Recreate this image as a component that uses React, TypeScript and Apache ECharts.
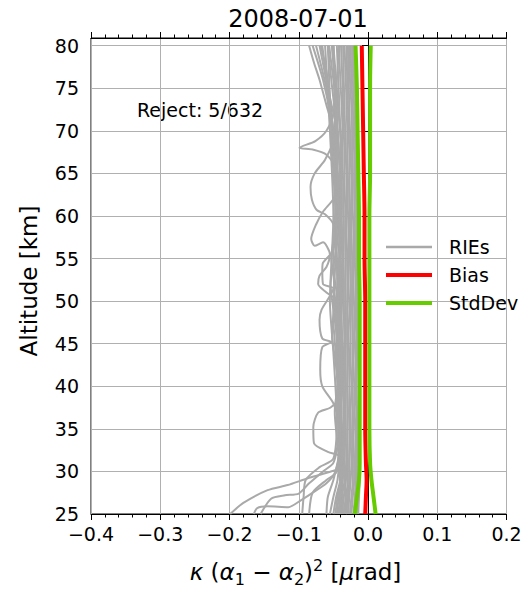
import React, { useEffect, useRef } from 'react';
import * as echarts from 'echarts';

const FONT = '"DejaVu Sans", sans-serif';

// Altitude levels (km) for the dense band of RIE profiles
const LEV = [25, 27, 29, 31, 34, 37, 40, 43, 46, 49, 52, 55, 58, 61, 64, 67, 70, 73, 76, 80];

// Dense core of RIE profiles: x values at LEV
const CORE_1 = [-0.014, -0.013, -0.012, -0.012, -0.012, -0.012, -0.012, -0.012, -0.012, -0.012, -0.012, -0.013, -0.013, -0.013, -0.014, -0.014, -0.015, -0.016, -0.018, -0.019];
const CORE_2 = [-0.016, -0.015, -0.014, -0.014, -0.014, -0.014, -0.014, -0.014, -0.014, -0.014, -0.014, -0.015, -0.015, -0.015, -0.016, -0.016, -0.017, -0.018, -0.020, -0.021];
const CORE_3 = [-0.019, -0.017, -0.016, -0.016, -0.016, -0.016, -0.017, -0.016, -0.016, -0.016, -0.016, -0.017, -0.017, -0.017, -0.018, -0.018, -0.019, -0.020, -0.022, -0.023];
const CORE_4 = [-0.021, -0.019, -0.018, -0.018, -0.018, -0.019, -0.018, -0.018, -0.019, -0.018, -0.018, -0.019, -0.019, -0.019, -0.020, -0.020, -0.021, -0.022, -0.024, -0.025];
const CORE_5 = [-0.024, -0.022, -0.020, -0.020, -0.021, -0.020, -0.020, -0.021, -0.020, -0.020, -0.021, -0.021, -0.021, -0.022, -0.022, -0.023, -0.023, -0.024, -0.026, -0.027];
const CORE_6 = [-0.026, -0.024, -0.022, -0.022, -0.023, -0.022, -0.023, -0.022, -0.022, -0.023, -0.023, -0.023, -0.024, -0.024, -0.024, -0.025, -0.026, -0.027, -0.028, -0.029];
const CORE_7 = [-0.029, -0.027, -0.025, -0.024, -0.025, -0.025, -0.024, -0.025, -0.025, -0.025, -0.025, -0.026, -0.026, -0.026, -0.027, -0.027, -0.028, -0.029, -0.030, -0.031];
const CORE_8 = [-0.032, -0.029, -0.027, -0.027, -0.027, -0.027, -0.027, -0.027, -0.028, -0.027, -0.028, -0.028, -0.028, -0.029, -0.029, -0.030, -0.030, -0.031, -0.032, -0.034];
const CORE_9 = [-0.035, -0.032, -0.029, -0.029, -0.030, -0.029, -0.030, -0.029, -0.030, -0.030, -0.030, -0.030, -0.031, -0.031, -0.031, -0.032, -0.033, -0.034, -0.035, -0.036];
const CORE_10 = [-0.038, -0.035, -0.032, -0.031, -0.032, -0.032, -0.032, -0.032, -0.032, -0.032, -0.033, -0.032, -0.033, -0.033, -0.034, -0.034, -0.035, -0.036, -0.037, -0.039];
const CORE_11 = [-0.041, -0.038, -0.034, -0.034, -0.034, -0.034, -0.035, -0.034, -0.034, -0.035, -0.035, -0.035, -0.035, -0.036, -0.036, -0.037, -0.037, -0.038, -0.040, -0.042];
// Looser, slightly wavy profiles left of the core
const LOOSE_1 = [-0.045, -0.042, -0.037, -0.036, -0.038, -0.041, -0.038, -0.036, -0.039, -0.042, -0.039, -0.037, -0.040, -0.043, -0.040, -0.038, -0.040, -0.043, -0.046, -0.050];
const LOOSE_2 = [-0.050, -0.046, -0.040, -0.039, -0.037, -0.039, -0.043, -0.046, -0.042, -0.038, -0.037, -0.040, -0.045, -0.042, -0.039, -0.042, -0.046, -0.049, -0.053, -0.058];
const LOOSE_3 = [-0.055, -0.050, -0.044, -0.042, -0.045, -0.048, -0.044, -0.041, -0.045, -0.050, -0.054, -0.048, -0.043, -0.041, -0.044, -0.049, -0.052, -0.055, -0.060, -0.066];
const LOOSE_4 = [-0.047, -0.044, -0.039, -0.037, -0.040, -0.038, -0.042, -0.047, -0.052, -0.049, -0.043, -0.040, -0.038, -0.041, -0.046, -0.051, -0.049, -0.046, -0.048, -0.052];
const LOOSE_5 = [-0.043, -0.040, -0.037, -0.035, -0.036, -0.039, -0.037, -0.035, -0.038, -0.042, -0.047, -0.053, -0.048, -0.043, -0.039, -0.037, -0.040, -0.044, -0.050, -0.056];
const BAND = [CORE_1, CORE_2, CORE_3, CORE_4, CORE_5, CORE_6, CORE_7, CORE_8, CORE_9, CORE_10, CORE_11, LOOSE_1, LOOSE_2, LOOSE_3, LOOSE_4, LOOSE_5];

// Outlying RIE profiles: [x, altitude] pairs
const OUT_SPIKE68 = [[-0.032, 25], [-0.034, 32], [-0.036, 40], [-0.038, 48], [-0.04, 56], [-0.042, 62], [-0.045, 65.5], [-0.06, 67.2], [-0.08, 67.8], [-0.099, 68.0], [-0.076, 68.8], [-0.06, 70], [-0.05, 72], [-0.045, 76], [-0.042, 80]];
const OUT_CURVE62 = [[-0.038, 25], [-0.04, 35], [-0.042, 45], [-0.045, 55], [-0.05, 59], [-0.062, 60.2], [-0.074, 60.7], [-0.081, 61.9], [-0.083, 63.4], [-0.077, 65], [-0.062, 66.6], [-0.05, 69], [-0.055, 74], [-0.06, 77], [-0.068, 80]];
const OUT_BUMPS = [[-0.03, 25], [-0.035, 30], [-0.04, 35], [-0.05, 38], [-0.066, 40], [-0.069, 42], [-0.066, 44.6], [-0.053, 45.2], [-0.066, 45.6], [-0.07, 47.8], [-0.067, 49], [-0.05, 51.5], [-0.065, 52], [-0.066, 53.7], [-0.065, 54.5], [-0.05, 56], [-0.045, 62], [-0.05, 70], [-0.06, 75], [-0.075, 80]];
const OUT_ELBOW35 = [[-0.028, 25], [-0.03, 29], [-0.038, 31.7], [-0.058, 32.3], [-0.078, 33.3], [-0.079, 35.2], [-0.072, 36.9], [-0.054, 37.5], [-0.042, 38.7], [-0.045, 45], [-0.05, 55], [-0.045, 65], [-0.055, 72], [-0.065, 76], [-0.08, 80]];
const OUT_LOOP57 = [[-0.036, 25], [-0.04, 35], [-0.045, 45], [-0.045, 50], [-0.06, 51], [-0.072, 52], [-0.07, 53], [-0.06, 54], [-0.055, 55.5], [-0.065, 56.9], [-0.077, 56.5], [-0.082, 57.3], [-0.075, 59], [-0.065, 60.5], [-0.05, 62], [-0.04, 64], [-0.045, 70], [-0.058, 75], [-0.07, 80]];
const OUT_TOP = [[-0.04, 25], [-0.042, 40], [-0.045, 55], [-0.048, 65], [-0.05, 70], [-0.06, 73], [-0.07, 76], [-0.078, 78], [-0.085, 80]];
const OUT_LOW_1 = [[-0.199, 25], [-0.18, 26.3], [-0.145, 27.8], [-0.116, 28.4], [-0.087, 29.2], [-0.057, 29.9], [-0.04, 30.5], [-0.035, 33], [-0.033, 40], [-0.035, 50], [-0.038, 60], [-0.04, 70], [-0.045, 80]];
const OUT_LOW_2 = [[-0.165, 25], [-0.16, 25.7], [-0.145, 25.9], [-0.115, 25.8], [-0.097, 26.6], [-0.08, 27.5], [-0.06, 28.6], [-0.047, 30], [-0.04, 33], [-0.04, 45], [-0.042, 60], [-0.048, 72], [-0.05, 80]];
const OUT_LOW_3 = [[-0.155, 25], [-0.14, 26.8], [-0.12, 27.2], [-0.1, 27.4], [-0.085, 28.6], [-0.065, 30], [-0.05, 31], [-0.043, 34], [-0.045, 42], [-0.05, 48], [-0.046, 58], [-0.052, 68], [-0.058, 80]];
const OUT_LOW_4 = [[-0.095, 25], [-0.093, 27], [-0.09, 29], [-0.07, 30.5], [-0.05, 31.5], [-0.045, 36], [-0.05, 44], [-0.055, 50], [-0.05, 60], [-0.055, 70], [-0.062, 80]];
const OUT_LOW_5 = [[-0.085, 25], [-0.08, 27.5], [-0.06, 29], [-0.045, 30], [-0.04, 38], [-0.043, 50], [-0.04, 62], [-0.046, 74], [-0.052, 80]];
const OUT_LOW_6 = [[-0.06, 25], [-0.058, 27], [-0.05, 29], [-0.042, 32], [-0.038, 42], [-0.04, 54], [-0.044, 66], [-0.05, 80]];
const OUTLIERS = [OUT_SPIKE68, OUT_CURVE62, OUT_BUMPS, OUT_ELBOW35, OUT_LOOP57, OUT_TOP, OUT_LOW_1, OUT_LOW_2, OUT_LOW_3, OUT_LOW_4, OUT_LOW_5, OUT_LOW_6];

// Statistics profiles
const STAT_ALT = [25, 27, 29, 31, 35, 40, 45, 50, 55, 60, 65, 70, 75, 80];
const BIAS = [-0.004, -0.003, -0.002, -0.003, -0.004, -0.004, -0.004, -0.004, -0.005, -0.005, -0.006, -0.007, -0.008, -0.009];
const STD_LOW = [-0.019, -0.016, -0.013, -0.012, -0.012, -0.012, -0.012, -0.012, -0.013, -0.013, -0.014, -0.015, -0.016, -0.018];
const STD_HIGH = [0.011, 0.008, 0.005, 0.003, 0.002, 0.002, 0.002, 0.002, 0.002, 0.002, 0.003, 0.003, 0.003, 0.004];

const Y_TICKS = [25, 30, 35, 40, 45, 50, 55, 60, 65, 70, 75, 80];
const TITLE = '2008-07-01';
const REJECT = 'Reject: 5/632';

const GRAY = '#a9a9a9';
const RED = '#ff0000';
const GREEN = '#66cc00';

function fmtX(v: number) {
  if (Math.abs(v) < 1e-9) return '0.0';
  return (v < 0 ? '\u2212' : '') + Math.abs(v).toFixed(1);
}

export default function App() {
  const ref = useRef<HTMLDivElement>(null);
  useEffect(() => {
    document.body.style.margin = '0';
    if (!ref.current) return;
    const chart = echarts.init(ref.current, null, { renderer: 'svg' });
    const series: any[] = [];
    BAND.forEach((xs) => {
      series.push({
        type: 'line', name: 'RIEs', data: xs.map((x, i) => [x, LEV[i]]),
        symbol: 'none', smooth: 0.3, lineStyle: { color: GRAY, width: 2 }, itemStyle: { color: GRAY },
        silent: true,
      });
    });
    OUTLIERS.forEach((pts) => {
      series.push({
        type: 'line', name: 'RIEs', data: pts,
        symbol: 'none', smooth: 0.25, lineStyle: { color: GRAY, width: 2 }, itemStyle: { color: GRAY },
        silent: true,
      });
    });
    series.push({
      type: 'line', name: 'Bias', data: BIAS.map((x, i) => [x, STAT_ALT[i]]),
      symbol: 'none', smooth: 0.3, lineStyle: { color: RED, width: 4 }, itemStyle: { color: RED }, silent: true,
    });
    series.push({
      type: 'line', name: 'StdDev', data: STD_LOW.map((x, i) => [x, STAT_ALT[i]]),
      symbol: 'none', smooth: 0.3, lineStyle: { color: GREEN, width: 4 }, itemStyle: { color: GREEN }, silent: true,
    });
    series.push({
      type: 'line', name: 'StdDev', data: STD_HIGH.map((x, i) => [x, STAT_ALT[i]]),
      symbol: 'none', smooth: 0.3, lineStyle: { color: GREEN, width: 4 }, itemStyle: { color: GREEN }, silent: true,
    });

    const xCommon = {
      type: 'value', min: -0.4, max: 0.2, interval: 0.1,
      axisLine: { show: true, lineStyle: { color: '#000', width: 1 } },
      axisTick: { show: true, length: 6, lineStyle: { color: '#000', width: 1 } },
      minorTick: { show: true, splitNumber: 5, length: 3.5, lineStyle: { color: '#000', width: 1 } },
    };

    chart.setOption({
      animation: false,
      backgroundColor: '#fff',
      grid: { left: 91, right: 20.5, top: 38, bottom: 77, show: true, borderColor: '#000', borderWidth: 1, backgroundColor: 'transparent' },
      xAxis: [
        {
          ...xCommon, position: 'bottom',
          axisLabel: { show: true, formatter: fmtX, color: '#000', fontSize: 19, fontFamily: FONT, margin: 10 },
          splitLine: { show: true, lineStyle: { color: '#b0b0b0', width: 1 } },
        },
        {
          ...xCommon, position: 'top',
          axisLabel: { show: false },
          splitLine: { show: false },
        },
      ],
      yAxis: {
        type: 'value', min: 25, max: 80.9, interval: 5,
        axisLine: { show: true, lineStyle: { color: '#000', width: 1 } },
        axisTick: { show: true, length: 6, lineStyle: { color: '#000', width: 1 }, customValues: Y_TICKS },
        axisLabel: { show: true, color: '#000', fontSize: 19, fontFamily: FONT, margin: 12, customValues: Y_TICKS,
          formatter: (v: number) => (Math.abs(v - Math.round(v)) < 1e-6 && Math.round(v) % 5 === 0 ? String(Math.round(v)) : '') },
        splitLine: { show: true, lineStyle: { color: '#b0b0b0', width: 1 } },
      },
      legend: {
        orient: 'vertical', left: 384, top: 233.5, padding: 0,
        itemWidth: 46, itemHeight: 10, itemGap: 1,
        itemStyle: { opacity: 0, color: 'rgba(0,0,0,0)', borderWidth: 0 },
        textStyle: { fontSize: 19, fontFamily: FONT, color: '#000', lineHeight: 27, padding: [0, 0, 0, 12] },
        data: [
          { name: 'RIEs', lineStyle: { width: 2.5 } },
          { name: 'Bias', lineStyle: { width: 4 } },
          { name: 'StdDev', lineStyle: { width: 4 } },
        ],
        selectedMode: false,
      },
      graphic: [
        { type: 'text', x: 298, y: 18.5, silent: true,
          style: { text: TITLE, fontSize: 24, fontFamily: FONT, fill: '#000', align: 'center', verticalAlign: 'middle' } },
        { type: 'text', x: 137, y: 110, silent: true,
          style: { text: REJECT, fontSize: 19, fontFamily: FONT, fill: '#000', align: 'left', verticalAlign: 'middle' } },
        { type: 'text', x: 29, y: 281, rotation: Math.PI / 2, silent: true,
          style: { text: 'Altitude [km]', fontSize: 23, fontFamily: FONT, fill: '#000', align: 'center', verticalAlign: 'middle' } },
        { type: 'text', x: 295.5, y: 572, silent: true,
          style: {
            text: '{i|\u03ba} ({i|\u03b1}{s|1} \u2212 {i|\u03b1}{s|2}){p|2} [{i|\u03bc}rad]',
            fontSize: 23, fontFamily: FONT, fill: '#000', align: 'center', verticalAlign: 'middle', lineHeight: 30,
            rich: {
              i: { fontStyle: 'italic', fontSize: 23, fontFamily: FONT, fill: '#000', lineHeight: 30, verticalAlign: 'middle' },
              s: { fontSize: 16, fontFamily: FONT, fill: '#000', lineHeight: 16, verticalAlign: 'bottom' },
              p: { fontSize: 16, fontFamily: FONT, fill: '#000', lineHeight: 16, verticalAlign: 'top' },
            },
          } },
      ],
      series,
    });
    return () => chart.dispose();
  }, []);
  return <div ref={ref} style={{ width: 527, height: 591 }} />;
}
